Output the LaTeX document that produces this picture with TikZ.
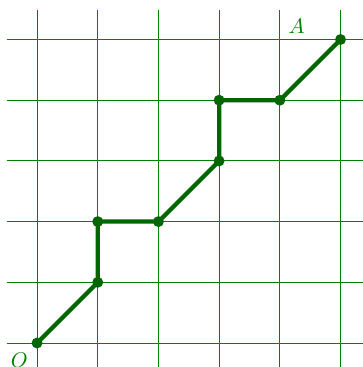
\documentclass[tikz,border=0pt]{standalone}
\usepackage{amsmath}
\usepackage{tikz}
\usetikzlibrary{positioning}

\begin{document}
\begin{tikzpicture}[
  gridline/.style = {draw=green!50!black, line width=0.45pt},
  walk/.style     = {draw=green!40!black, line width=2pt, line join=round},
  dot/.style      = {circle, fill=green!40!black, inner sep=0pt,
                     minimum size=0.18cm},
  tag/.style      = {text=green!50!black, inner sep=1pt}
]
\useasboundingbox (-0.61,-0.395) rectangle (5.354,5.651);

\draw[gridline, step=1] (-0.5,-0.6) grid (5.6,5.49);

\node[dot] (o)  at (0,0) {};
\node[dot] (p1) at (1,1) {};
\node[dot] (p2) at (1,2) {};
\node[dot] (p3) at (2,2) {};
\node[dot] (p4) at (3,3) {};
\node[dot] (p5) at (3,4) {};
\node[dot] (p6) at (4,4) {};
\node[dot] (a)  at (5,5) {};

\draw[walk] (o.center) -- (p1.center) -- (p2.center) -- (p3.center)
  -- (p4.center) -- (p5.center) -- (p6.center) -- (a.center);

\node[tag, below left=0.12cm and 0.11cm of o.center] (olabel) {$O$};
\node[tag, above left=0.05cm and 0.55cm of a.center] (alabel) {$A$};

\end{tikzpicture}
\end{document}
